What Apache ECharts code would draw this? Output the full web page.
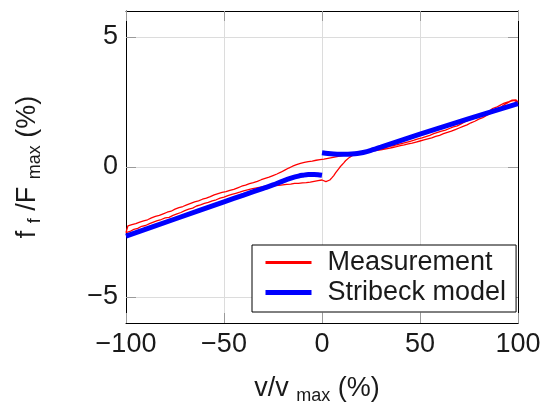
<!DOCTYPE html>
<html><head><meta charset="utf-8">
<script src="https://cdn.jsdelivr.net/npm/echarts@6/dist/echarts.min.js"></script>
<style>html,body{margin:0;padding:0;background:#fff}#c{width:554px;height:402px}</style>
</head><body><div id="c"></div>
<script>
// ---- data ----
const xTicks = [-100, -50, 0, 50, 100];
const yTicks = [-5, 0, 5];

// Measurement: upper trace (v decreasing 100 -> -100)
const measUpperV = [100, 99, 98, 97, 96, 95, 93, 91, 89, 87, 85, 83, 81, 79, 77, 75, 73, 71, 69, 67, 65, 63, 61, 59, 57, 55, 53, 51, 49, 47, 45, 43, 41, 39, 37, 35, 33, 31, 29, 27, 25, 23, 21, 19, 17, 15, 13, 11, 9, 7, 5, 3, 1, -1, -3, -5, -7, -9, -11, -13, -15, -17, -19, -21, -23, -25, -27, -29, -31, -33, -35, -37, -39, -41, -43, -45, -47, -49, -51, -53, -55, -57, -59, -61, -63, -65, -67, -69, -71, -73, -75, -77, -79, -81, -83, -85, -87, -89, -91, -93, -95, -97, -99, -100];
const measUpperF = [2.50, 2.58, 2.62, 2.57, 2.55, 2.50, 2.46, 2.38, 2.30, 2.25, 2.12, 2.02, 1.96, 1.90, 1.86, 1.80, 1.74, 1.66, 1.58, 1.54, 1.48, 1.42, 1.38, 1.33, 1.28, 1.22, 1.17, 1.12, 1.08, 1.03, 0.99, 0.95, 0.91, 0.87, 0.83, 0.80, 0.76, 0.73, 0.70, 0.67, 0.64, 0.61, 0.58, 0.56, 0.53, 0.50, 0.47, 0.45, 0.42, 0.39, 0.36, 0.33, 0.30, 0.28, 0.26, 0.23, 0.21, 0.18, 0.14, 0.09, 0.03, -0.04, -0.12, -0.20, -0.27, -0.33, -0.39, -0.44, -0.49, -0.55, -0.60, -0.64, -0.70, -0.74, -0.80, -0.86, -0.90, -0.95, -0.98, -1.02, -1.07, -1.14, -1.20, -1.24, -1.30, -1.34, -1.40, -1.46, -1.52, -1.56, -1.62, -1.70, -1.74, -1.80, -1.86, -1.90, -1.96, -2.03, -2.07, -2.12, -2.18, -2.22, -2.26, -2.30];

// Measurement: lower trace (v increasing -100 -> 100)
const measLowerV = [-100, -99, -98, -96, -94, -92, -90, -88, -86, -84, -82, -80, -78, -76, -74, -72, -70, -68, -66, -64, -62, -60, -58, -56, -54, -52, -50, -48, -46, -44, -42, -40, -38, -36, -34, -32, -30, -28, -26, -24, -22, -20, -18, -16, -14, -12, -10, -8, -6, -4, -2, 0, 1, 2, 3, 4, 5, 6, 7, 8, 9, 10, 11, 12, 13, 14, 15, 16, 18, 20, 22, 24, 26, 28, 30, 32, 34, 36, 38, 40, 42, 44, 46, 48, 50, 52, 54, 56, 58, 60, 62, 64, 66, 68, 70, 72, 74, 76, 78, 80, 82, 84, 86, 88, 90, 92, 94, 96, 98, 100];
const measLowerF = [-2.52, -2.45, -2.48, -2.40, -2.36, -2.28, -2.25, -2.18, -2.12, -2.06, -2.02, -1.96, -1.94, -1.86, -1.80, -1.75, -1.68, -1.62, -1.58, -1.50, -1.46, -1.40, -1.36, -1.30, -1.26, -1.20, -1.16, -1.10, -1.05, -1.01, -0.97, -0.92, -0.88, -0.84, -0.81, -0.78, -0.76, -0.74, -0.75, -0.72, -0.71, -0.69, -0.67, -0.66, -0.63, -0.63, -0.61, -0.60, -0.58, -0.55, -0.52, -0.50, -0.52, -0.56, -0.55, -0.50, -0.42, -0.33, -0.22, -0.12, -0.02, 0.07, 0.15, 0.24, 0.31, 0.37, 0.42, 0.46, 0.51, 0.55, 0.58, 0.60, 0.62, 0.64, 0.66, 0.69, 0.72, 0.75, 0.78, 0.82, 0.85, 0.89, 0.92, 0.96, 1.00, 1.04, 1.08, 1.12, 1.18, 1.22, 1.28, 1.33, 1.38, 1.44, 1.50, 1.56, 1.62, 1.70, 1.76, 1.84, 1.90, 1.98, 2.06, 2.14, 2.22, 2.34, 2.44, 2.52, 2.56, 2.48];

// Stribeck model branches
const modelNegV = [-100, -75, -50, -40, -30, -25, -20, -15, -12, -10, -7, -4, -2, 0];
const modelNegF = [-2.66, -2.00, -1.34, -1.08, -0.82, -0.69, -0.54, -0.41, -0.35, -0.32, -0.29, -0.29, -0.30, -0.32];
const modelPosV = [0, 3, 6, 9, 12, 15, 18, 21, 25, 30, 50, 75, 100];
const modelPosF = [0.55, 0.52, 0.50, 0.49, 0.49, 0.50, 0.52, 0.56, 0.64, 0.76, 1.26, 1.86, 2.44];

// ---- chart ----
const FONT = '"Liberation Sans", Arial, Helvetica, sans-serif';
const TXT = '#1a1a1a';
const zip = (a, b) => a.map((v, i) => [v, b[i]]);
const minus = v => String(v).replace('-', '\u2212');
const measData = zip(measUpperV, measUpperF).concat(zip(measLowerV, measLowerF));

const chart = echarts.init(document.getElementById('c'), null, {renderer: 'canvas'});
const rich = {
  m: {fontSize: 27, fontFamily: FONT, color: TXT},
  s: {fontSize: 18, fontFamily: FONT, color: TXT, padding: [14, 0, 0, 0]}
};
const tickStyle = {show: true, inside: true, length: 10, lineStyle: {color: '#9a9a9a', width: 1}};
const frameLine = {show: true, onZero: false, lineStyle: {color: '#000', width: 1}};

chart.setOption({
  animation: false,
  grid: {left: 126, right: 36, top: 11, bottom: 79, containLabel: false, outerBoundsMode: 'none'},
  xAxis: [{
    type: 'value', min: -100, max: 100, interval: 50, position: 'bottom',
    axisLine: frameLine, axisTick: tickStyle,
    axisLabel: {fontSize: 27, color: TXT, fontFamily: FONT, margin: 8, formatter: minus},
    splitLine: {show: true, lineStyle: {color: '#dcdcdc', width: 1}},
    name: '{m|v/v }{s|max}{m| (%)}', nameLocation: 'middle', nameGap: 50,
    nameTextStyle: {rich: rich, padding: [0, 10, 0, 0]}
  }, {
    type: 'value', min: -100, max: 100, interval: 50, position: 'top',
    axisLine: frameLine, axisTick: tickStyle, axisLabel: {show: false}, splitLine: {show: false}
  }],
  yAxis: [{
    type: 'value', min: -6, max: 6, position: 'left',
    axisLine: frameLine,
    axisTick: Object.assign({customValues: yTicks}, tickStyle),
    axisLabel: {customValues: yTicks, fontSize: 27, color: TXT, fontFamily: FONT, margin: 8, formatter: minus},
    splitLine: {show: true, lineStyle: {color: '#dcdcdc', width: 1}},
    name: '{m|f }{s|f}{m| /F }{s|max}{m| (%)}', nameLocation: 'middle', nameRotate: 90, nameGap: 82,
    nameTextStyle: {rich: rich}
  }, {
    type: 'value', min: -6, max: 6, position: 'right',
    axisLine: frameLine,
    axisTick: Object.assign({customValues: yTicks}, tickStyle),
    axisLabel: {show: false}, splitLine: {show: false}
  }],
  legend: {
    orient: 'vertical', left: 252, top: 245, padding: [4, 10, 6, 11],
    itemWidth: 46, itemHeight: 14, itemGap: 3,
    borderColor: '#000', borderWidth: 1, backgroundColor: '#fff', borderRadius: 0,
    textStyle: {fontSize: 27, fontFamily: FONT, color: TXT, lineHeight: 27, padding: [0, 0, 0, 11]},
    data: [
      {name: 'Measurement', lineStyle: {width: 3}, itemStyle: {opacity: 0}},
      {name: 'Stribeck model', lineStyle: {width: 5}, itemStyle: {opacity: 0}}
    ],
    selectedMode: false
  },
  series: [
    {name: 'Measurement', type: 'line', data: measData, symbol: 'none', showSymbol: false,
     xAxisIndex: 0, yAxisIndex: 0, silent: true, z: 2,
     lineStyle: {color: '#ff0000', width: 1.3}, itemStyle: {color: '#ff0000'}},
    {name: 'Stribeck model', type: 'line', data: zip(modelNegV, modelNegF), symbol: 'none', showSymbol: false,
     smooth: 0.3, xAxisIndex: 0, yAxisIndex: 0, silent: true, z: 3,
     lineStyle: {color: '#0000ff', width: 5}, itemStyle: {color: '#0000ff'}},
    {name: 'Stribeck model', type: 'line', data: zip(modelPosV, modelPosF), symbol: 'none', showSymbol: false,
     smooth: 0.3, xAxisIndex: 0, yAxisIndex: 0, silent: true, z: 3,
     lineStyle: {color: '#0000ff', width: 5}, itemStyle: {color: '#0000ff'}}
  ]
});
</script>
</body></html>
